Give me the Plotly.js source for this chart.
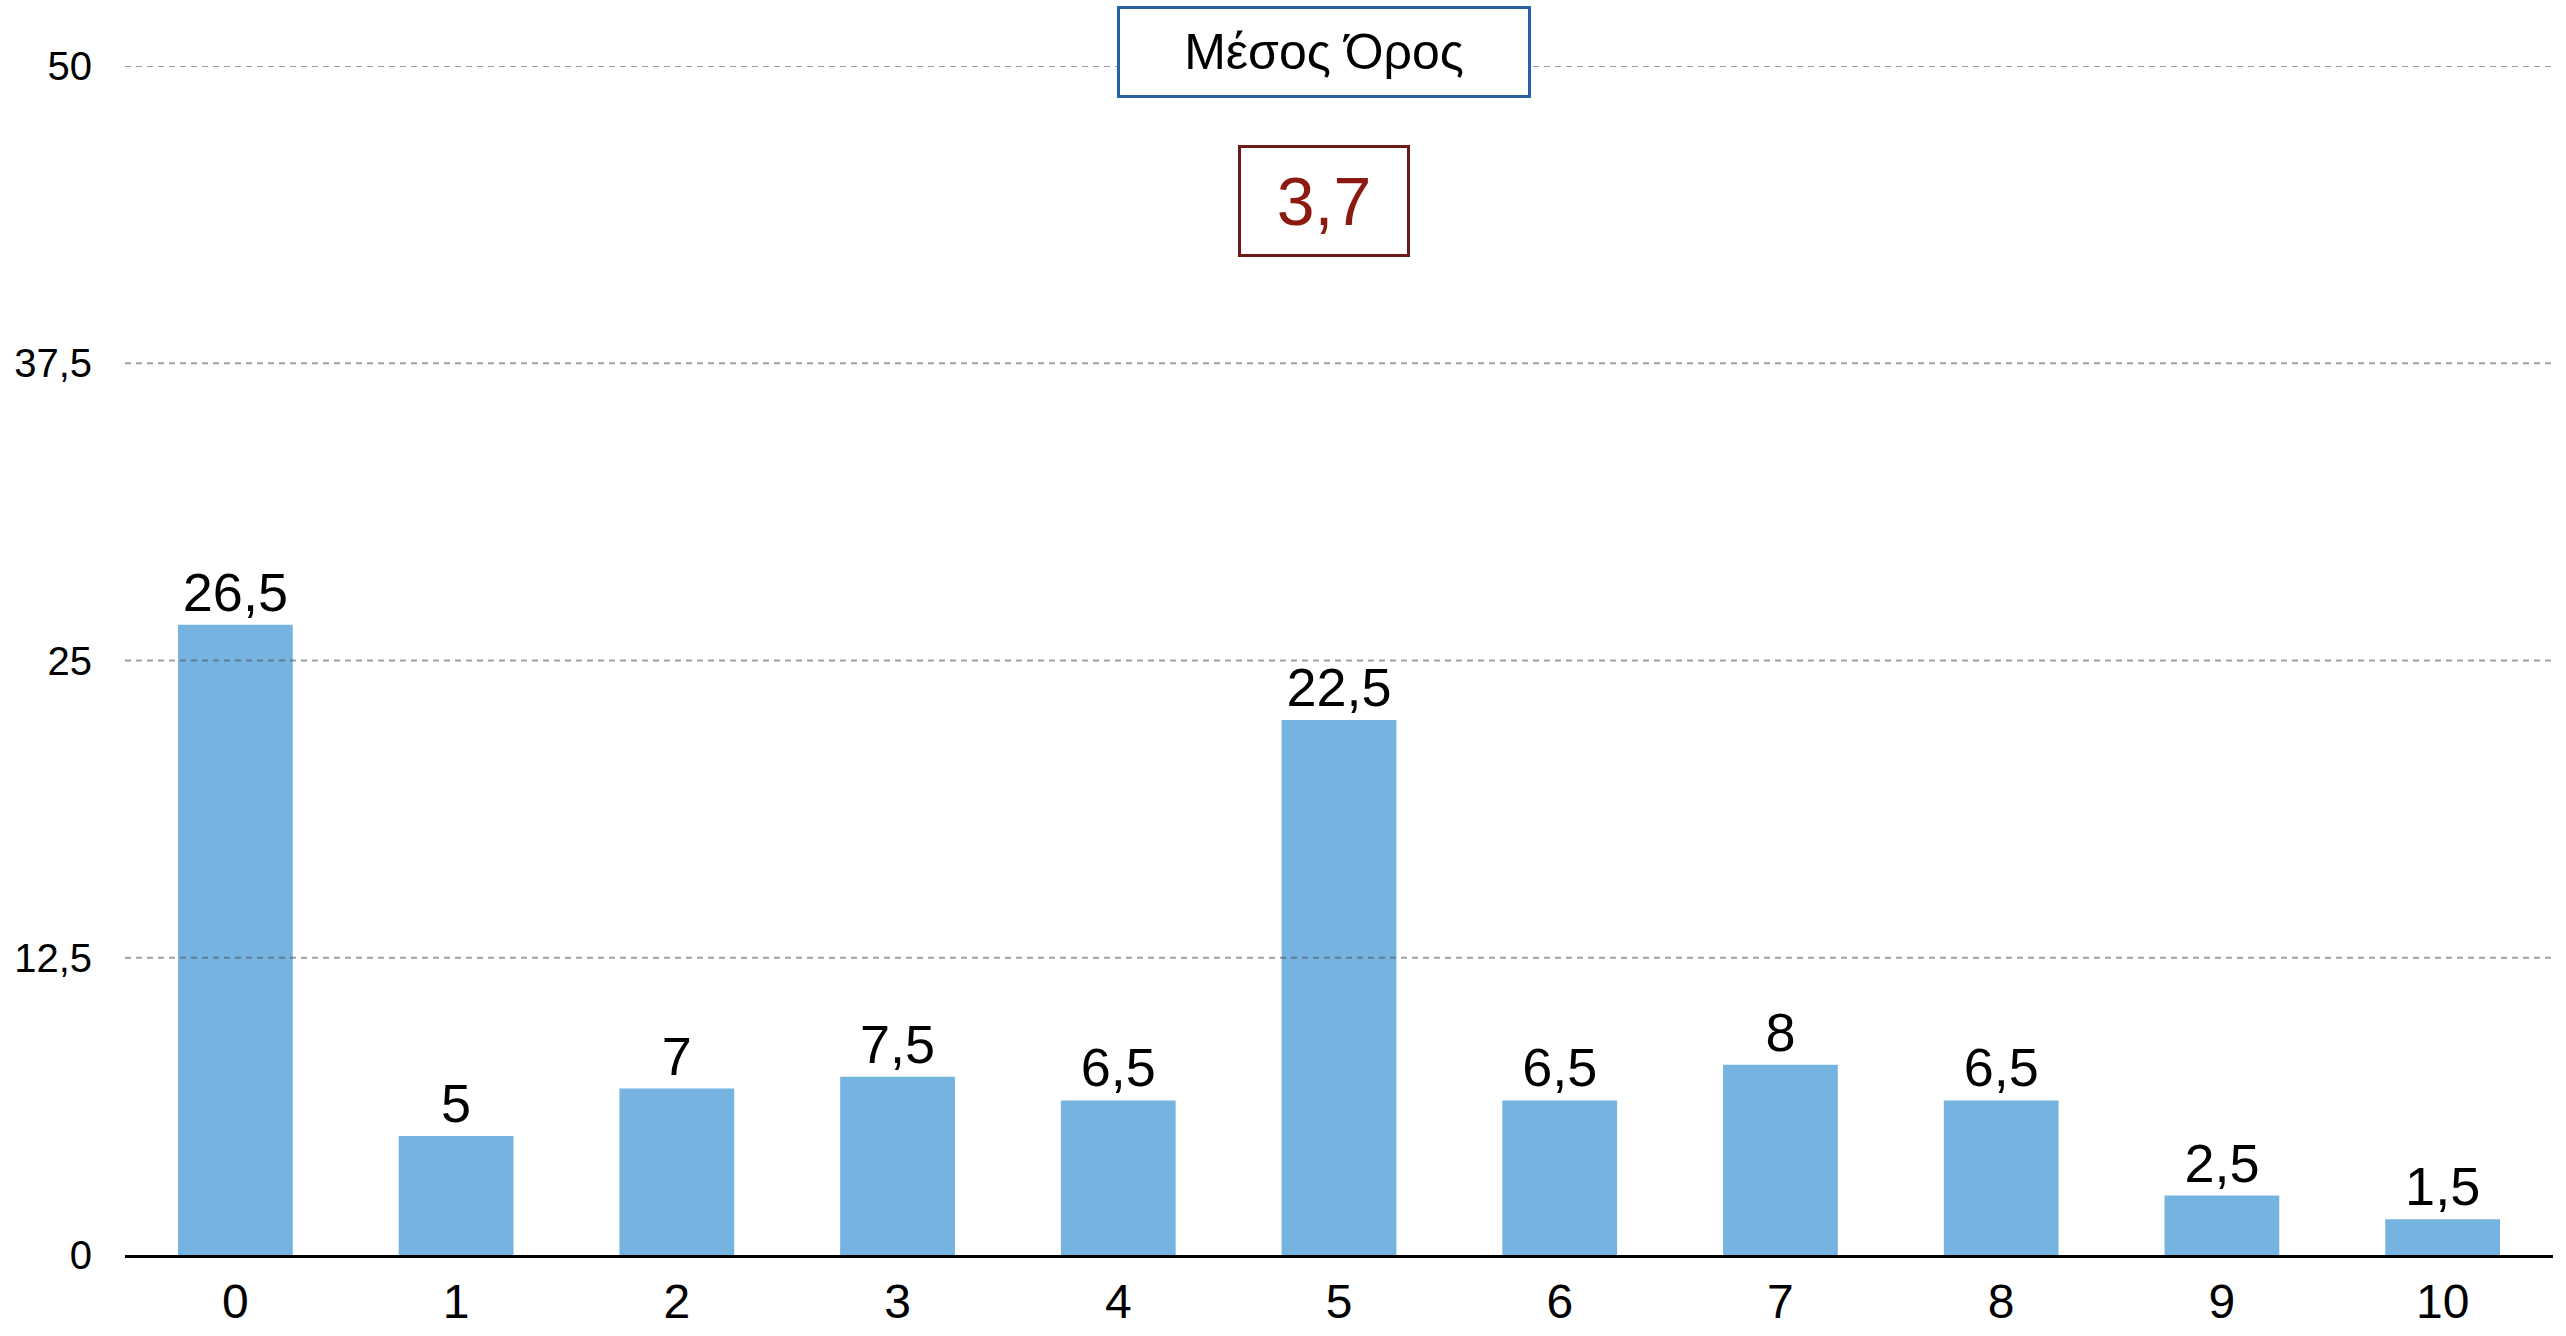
<!DOCTYPE html>
<html>
<head>
<meta charset="utf-8">
<script src="https://cdn.plot.ly/plotly-3.0.1.min.js"></script>
<style>html,body{margin:0;padding:0;background:#fff;}#chart{width:2566px;height:1336px;}</style>
</head>
<body>
<div id="chart"></div>
<script>
const categories = ["0","1","2","3","4","5","6","7","8","9","10"];
const values = [26.5, 5, 7, 7.5, 6.5, 22.5, 6.5, 8, 6.5, 2.5, 1.5];
const yTickVals = [0, 12.5, 25, 37.5, 50];
const yTickText = ["0", "12,5", "25", "37,5", "50"];
const titleText = "Μέσος Όρος";
const meanText = "3,7";

const fontFam = "Liberation Sans, Helvetica Neue, Arial, sans-serif";
const labels = values.map(v => String(v).replace(".", ","));

const trace = {
  type: "bar",
  x: categories,
  y: values,
  text: labels,
  textposition: "outside",
  cliponaxis: false,
  textfont: {family: fontFam, size: 54, color: "#000"},
  marker: {color: "#75b3e0"},
  hoverinfo: "skip"
};

const gridShapes = yTickVals.filter(v => v > 0).map(v => ({
  type: "line", xref: "paper", x0: 0, x1: 1, yref: "y", y0: v, y1: v,
  layer: "above",
  line: {color: "rgba(80,80,80,0.55)", width: 2, dash: "6px,5px"}
}));

const layout = {
  width: 2566, height: 1336,
  margin: {l: 125, r: 13, t: 66, b: 81},
  paper_bgcolor: "#fff", plot_bgcolor: "#fff",
  showlegend: false,
  bargap: 0.48,
  font: {family: fontFam, color: "#000"},
  xaxis: {
    type: "category",
    range: [-0.5, 10.5],
    showgrid: false, zeroline: false,
    showline: true, linecolor: "#000", linewidth: 3,
    ticks: "", ticklabelstandoff: 2,
    tickfont: {family: fontFam, size: 48, color: "#000"}
  },
  yaxis: {
    range: [0, 50],
    tickvals: yTickVals, ticktext: yTickText,
    showgrid: false, zeroline: false, showline: false,
    ticks: "", ticklabelstandoff: 32,
    tickfont: {family: fontFam, size: 40, color: "#000"}
  },
  shapes: gridShapes,
  annotations: [
    {
      xref: "paper", yref: "paper", x: 0.494, y: 1.0118,
      xanchor: "center", yanchor: "middle",
      text: titleText, showarrow: false,
      font: {family: fontFam, size: 50, color: "#000"},
      bgcolor: "#fff", bordercolor: "#2b60a0", borderwidth: 3, borderpad: 4,
      width: 400, height: 78
    },
    {
      xref: "paper", yref: "paper", x: 0.494, y: 0.8865,
      xanchor: "center", yanchor: "middle",
      text: meanText, showarrow: false,
      font: {family: fontFam, size: 68, color: "#8b1a10"},
      bgcolor: "#fff", bordercolor: "#6e1a16", borderwidth: 3, borderpad: 4,
      width: 158, height: 98
    }
  ]
};

Plotly.newPlot("chart", [trace], layout, {staticPlot: true, displayModeBar: false});
</script>
</body>
</html>
